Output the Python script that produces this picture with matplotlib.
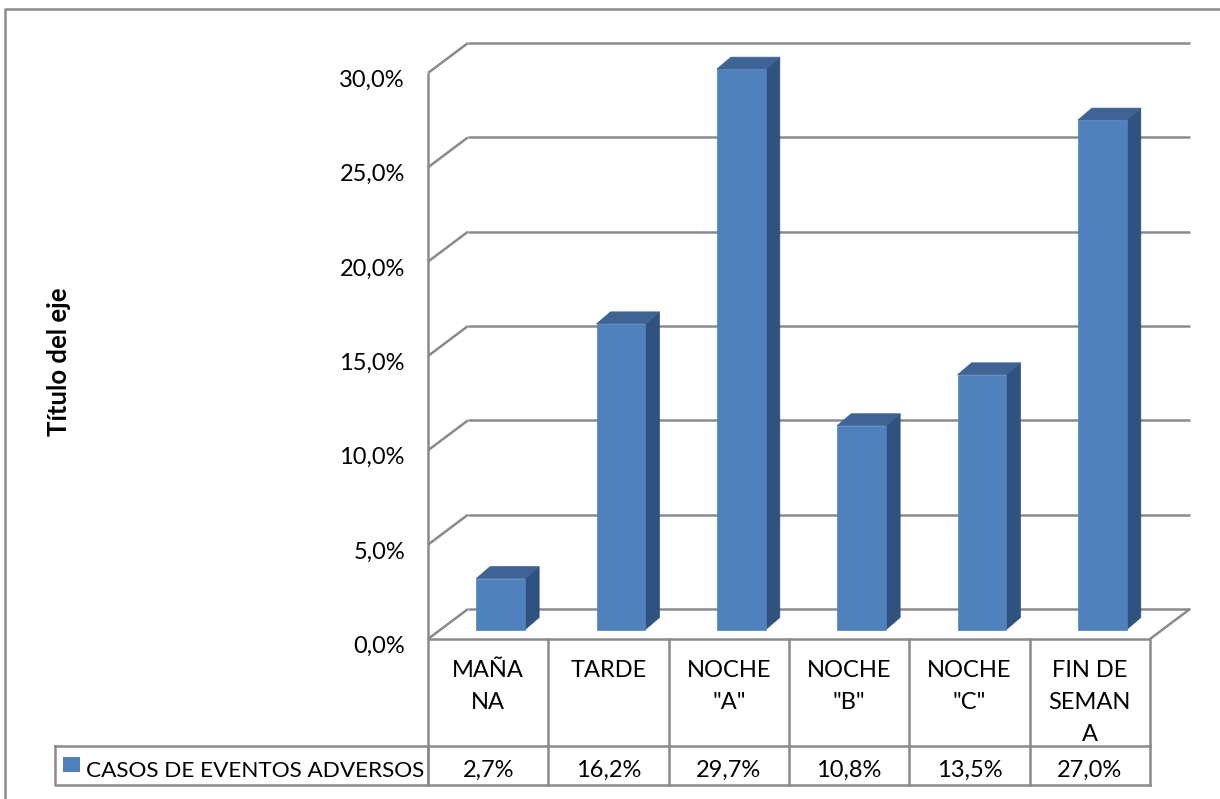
import matplotlib
matplotlib.use("Agg")
import matplotlib.pyplot as plt
import matplotlib.transforms as mtransforms
from matplotlib.patches import Polygon, Rectangle
from matplotlib.lines import Line2D

# datos del grafico
categorias = ['MAÑA\nNA', 'TARDE', 'NOCHE\n"A"', 'NOCHE\n"B"', 'NOCHE\n"C"', 'FIN DE\nSEMAN\nA']
valores = [2.7, 16.2, 29.7, 10.8, 13.5, 27.0]
etiquetas = ['2,7%', '16,2%', '29,7%', '10,8%', '13,5%', '27,0%']
ticks_y = [0, 5, 10, 15, 20, 25, 30]
ticks_txt = ['0,0%', '5,0%', '10,0%', '15,0%', '20,0%', '25,0%', '30,0%']
serie = 'CASOS DE EVENTOS ADVERSOS'
titulo_eje = 'Título del eje'

W, H = 1220, 799
GRIS = '#8a8a8a'
FRENTE = '#4f81bd'
TECHO = '#3d6495'
LADO = '#30527f'
plt.rcParams['font.family'] = ['Lato', 'DejaVu Sans']

fig = plt.figure(figsize=(W / 100, H / 100), dpi=100)
fig.patch.set_facecolor('white')
# plano frontal del grafico 3D: x = categoria, y = porcentaje
ax = fig.add_axes([428 / W, 1 - 639 / H, (1150 - 428) / W, (639 - 73) / H])
ax.set_xlim(0, len(valores))
ax.set_ylim(0, 30)
ax.axis('off')

# coordenadas en pixeles con origen arriba a la izquierda
pix = mtransforms.Affine2D().scale(1, -1).translate(0, H)
ident = mtransforms.IdentityTransform()
FONDO = (40, 30)          # profundidad de la pared del fondo
BARRA_F = (12.5, 9.5)     # cara frontal de la barra
BARRA_B = (26.5, 21.5)    # cara trasera de la barra


def punto(x, v, d=(0, 0)):
    px, py = ax.transData.transform((x, v))
    return (px + d[0], py + d[1])


def linea(p0, p1, lw=1.8, color=GRIS, z=1):
    fig.add_artist(Line2D([p0[0], p1[0]], [p0[1], p1[1]], transform=ident,
                          color=color, lw=lw, zorder=z, solid_capstyle='butt'))


def poligono(pts, color, z=3):
    fig.add_artist(Polygon(pts, closed=True, transform=ident, facecolor=color,
                           edgecolor=color, lw=0.5, zorder=z))


n = len(valores)
# paredes: lineas de division
for t in ticks_y:
    linea(punto(0, t), punto(0, t, FONDO))
    linea(punto(0, t, FONDO), punto(n, t, FONDO))
linea(punto(0, 0), punto(0, 30))
linea(punto(0, 0), punto(n, 0))
linea(punto(n, 0), punto(n, 0, FONDO))

# barras 3D
ancho = 0.407
for i, v in enumerate(valores):
    x0, x1 = i + 0.5 - ancho / 2, i + 0.5 + ancho / 2
    poligono([punto(x1, 0, BARRA_F), punto(x1, 0, BARRA_B),
              punto(x1, v, BARRA_B), punto(x1, v, BARRA_F)], LADO)
    poligono([punto(x0, v, BARRA_F), punto(x1, v, BARRA_F),
              punto(x1, v, BARRA_B), punto(x0, v, BARRA_B)], TECHO)
    poligono([punto(x0, 0, BARRA_F), punto(x1, 0, BARRA_F),
              punto(x1, v, BARRA_F), punto(x0, v, BARRA_F)], FRENTE, z=4)

# etiquetas del eje vertical
tr_y = mtransforms.blended_transform_factory(pix, ax.transData) + \
    mtransforms.Affine2D().translate(0, -14)
for t, s in zip(ticks_y, ticks_txt):
    fig.text(405, t, s, transform=tr_y, ha='right', va='baseline', fontsize=17)

fig.text(59, 362, titulo_eje, transform=pix, rotation=90, ha='center',
         va='center', fontsize=18.5, fontweight='bold')

# tabla de datos
tr_t = mtransforms.blended_transform_factory(ax.transData, pix)
for y in (746, 785):
    fig.add_artist(Line2D([0, n], [y, y], transform=tr_t, color=GRIS, lw=1.8))
for i in range(n + 1):
    fig.add_artist(Line2D([i, i], [639, 785], transform=tr_t, color=GRIS, lw=1.8))
fig.add_artist(Line2D([55, 428, 428, 55, 55], [746, 746, 785, 785, 746],
                      transform=pix, color=GRIS, lw=1.8))

for i, (cat, et) in enumerate(zip(categorias, etiquetas)):
    for k, parte in enumerate(cat.split('\n')):
        fig.text(i + 0.5, 677 + 32 * k, parte, transform=tr_t, ha='center',
                 va='baseline', fontsize=17)
    fig.text(i + 0.5, 777, et, transform=tr_t, ha='center', va='baseline',
             fontsize=17)

fig.add_artist(Rectangle((63, 757), 17, 15, transform=pix, facecolor=FRENTE,
                         edgecolor='none'))
fig.text(86, 777, serie, transform=pix, ha='left', va='baseline', fontsize=16.2)

# borde del area del grafico
fig.add_artist(Line2D([5, 5, W], [H, 9, 9], transform=pix, color=GRIS, lw=1.8))

fig.savefig('out.png', dpi=100, facecolor='white')
